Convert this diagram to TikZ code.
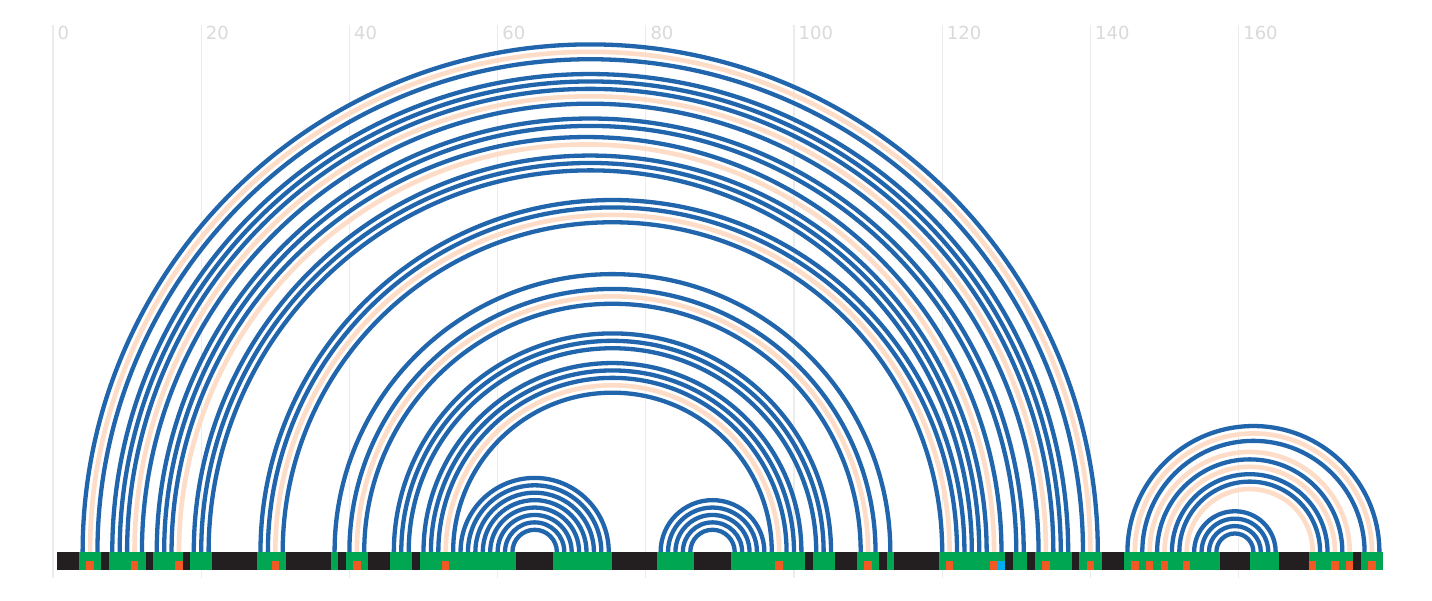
\documentclass[tikz,border=0pt]{standalone}
\usepackage{fontspec}
\setmainfont{DejaVu Sans}
\definecolor{arcblue}{RGB}{33,102,172}
\definecolor{arcpeach}{RGB}{253,220,200}
\definecolor{ntblack}{RGB}{35,31,32}
\definecolor{ntgreen}{RGB}{0,166,81}
\definecolor{ntorange}{RGB}{241,90,34}
\definecolor{ntcyan}{RGB}{0,174,239}
\definecolor{gridgray}{RGB}{236,236,236}
\definecolor{labelgray}{RGB}{218,218,218}
\tikzset{
  gridline/.style={draw=gridgray, line width=1.2pt},
  ticklabel/.style={anchor=base west, inner sep=0pt, text=labelgray, font=\fontsize{18}{20}\selectfont},
  bp/.style={draw=arcblue, line width=4.3pt},
  bppeach/.style={draw=arcpeach, line width=4.6pt},
}
\begin{document}
\begin{tikzpicture}[x=1pt,y=1pt]
\useasboundingbox (0,0) rectangle (1432,600);
\fill[white] (0,0) rectangle (1432,600);
% grid lines and tick labels
\foreach \k in {0,20,...,160} {
  \pgfmathsetmacro\gx{53+7.41*\k}
  \coordinate (gt\k) at (\gx,575);
  \coordinate (gb\k) at (\gx,22);
  \draw[gridline] (gt\k) -- (gb\k);
  \node[ticklabel] (t\k) at (\gx+4.5,560) {\k};
}
\begin{scope}[shift={(53pt,48pt)}, x=7.41pt, y=7.41pt]
  \foreach \i in {1,...,179} { \coordinate (n\i) at (\i,0); }
  % non-canonical / mismatch pairs (peach)
  \foreach \a/\b in {5/140, 11/134, 17/127, 30/121, 41/110, 53/98, 146/178, 148/175, 150/173, 153/170} {
    \draw[bppeach] (n\a) arc[start angle=180, end angle=0, radius={(\b-\a)/2}];
  }
  % base pairs (blue)
  \foreach \a/\b in {4/141, 6/139, 8/137, 9/136, 10/135, 12/133, 14/131, 15/130, 16/128, 19/126, 20/125, 21/124,
                     28/123, 29/122, 31/120, 38/113, 40/111, 42/109, 46/105, 47/104, 48/103,
                     50/101, 51/100, 52/99, 54/97,
                     55/75, 56/74, 57/73, 58/72, 59/71, 60/70, 61/69, 62/68,
                     82/96, 83/95, 84/94, 85/93, 86/92,
                     145/179, 147/177, 149/174, 151/172, 152/171,
                     154/165, 155/164, 156/163, 157/162} {
    \draw[bp] (n\a) arc[start angle=180, end angle=0, radius={(\b-\a)/2}];
  }
  % sequence bar
  \fill[ntblack] (0.5,0) rectangle (179.5,-2.429);
  \foreach \s/\e in {4/6, 8/12, 14/17, 19/21, 28/31, 38/38, 40/42, 46/48, 50/62, 68/75, 82/86, 92/101,
                     103/105, 109/111, 113/113, 120/128, 130/131, 133/137, 139/141, 145/157, 162/165,
                     170/175, 177/179} {
    \fill[ntgreen] (\s-0.5,0) rectangle (\e+0.5,-2.429);
  }
  \foreach \o in {5, 11, 17, 30, 41, 53, 98, 110, 121, 127, 134, 140, 146, 148, 150, 153, 170, 173, 175, 178} {
    \fill[ntorange] (\o-0.5,-1.215) rectangle (\o+0.5,-2.429);
  }
  \fill[ntcyan] (127.5,-1.215) rectangle (128.5,-2.429);
\end{scope}
\end{tikzpicture}
\end{document}
